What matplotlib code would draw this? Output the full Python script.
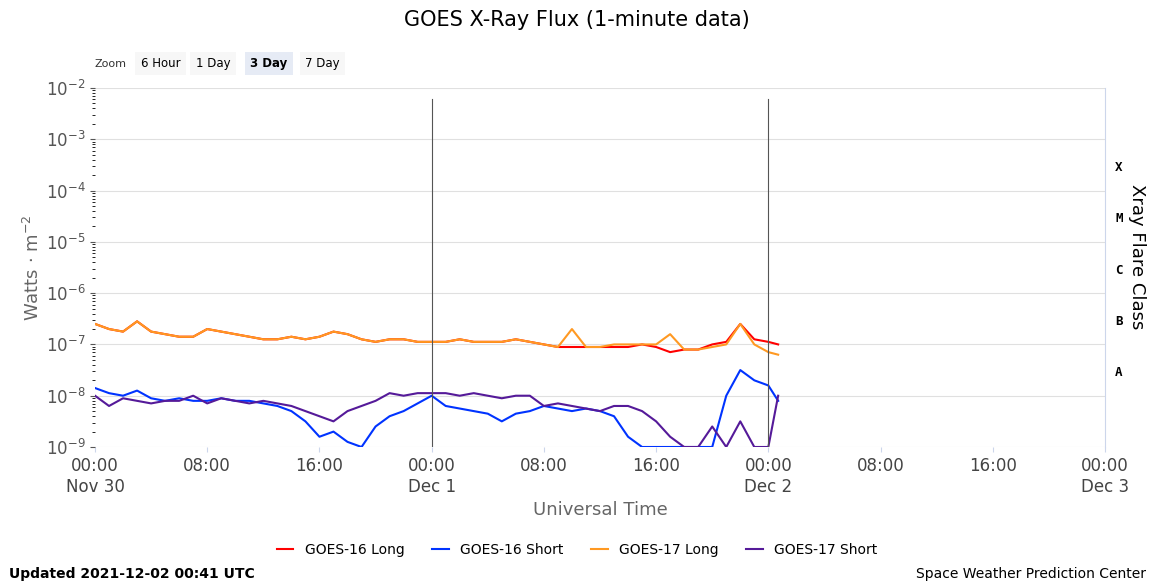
import matplotlib.pyplot as plt
import numpy as np

# hours since 2021-11-30 00:00 UTC
hours = list(range(49)) + [48.7]
hours = sorted(set(hours))

g16_long = [-6.6, -6.7, -6.75, -6.55, -6.75, -6.8, -6.85, -6.85, -6.7, -6.75, -6.8, -6.85, -6.9, -6.9, -6.85,
            -6.9, -6.85, -6.75, -6.8, -6.9, -6.95, -6.9, -6.9, -6.95, -6.95, -6.95, -6.9, -6.95, -6.95, -6.95,
            -6.9, -6.95, -7.0, -7.05, -7.05, -7.05, -7.05, -7.05, -7.05, -7.0, -7.05, -7.15, -7.1, -7.1, -7.0,
            -6.95, -6.6, -6.9, -6.95, -7.0]
g17_long = [-6.6, -6.7, -6.75, -6.55, -6.75, -6.8, -6.85, -6.85, -6.7, -6.75, -6.8, -6.85, -6.9, -6.9, -6.85,
            -6.9, -6.85, -6.75, -6.8, -6.9, -6.95, -6.9, -6.9, -6.95, -6.95, -6.95, -6.9, -6.95, -6.95, -6.95,
            -6.9, -6.95, -7.0, -7.05, -6.7, -7.05, -7.05, -7.0, -7.0, -7.0, -7.0, -6.8, -7.1, -7.1, -7.05,
            -7.0, -6.6, -7.0, -7.15, -7.2]
g16_short = [-7.85, -7.95, -8.0, -7.9, -8.05, -8.1, -8.05, -8.1, -8.1, -8.05, -8.1, -8.1, -8.15, -8.2, -8.3,
             -8.5, -8.8, -8.7, -8.9, -9.0, -8.6, -8.4, -8.3, -8.15, -8.0, -8.2, -8.25, -8.3, -8.35, -8.5,
             -8.35, -8.3, -8.2, -8.25, -8.3, -8.25, -8.3, -8.4, -8.8, -9.0, -9.0, -9.0, -9.0, -9.0, -9.0,
             -8.0, -7.5, -7.7, -7.8, -8.1]
g17_short = [-8.0, -8.2, -8.05, -8.1, -8.15, -8.1, -8.1, -8.0, -8.15, -8.05, -8.1, -8.15, -8.1, -8.15, -8.2,
             -8.3, -8.4, -8.5, -8.3, -8.2, -8.1, -7.95, -8.0, -7.95, -7.95, -7.95, -8.0, -7.95, -8.0, -8.05,
             -8.0, -8.0, -8.2, -8.15, -8.2, -8.25, -8.3, -8.2, -8.2, -8.3, -8.5, -8.8, -9.0, -9.0, -8.6,
             -9.0, -8.5, -9.0, -9.0, -8.0]

x_ticks = [0, 8, 16, 24, 32, 40, 48, 56, 64, 72]
x_labels = ['00:00\nNov 30', '08:00', '16:00', '00:00\nDec 1', '08:00', '16:00',
            '00:00\nDec 2', '08:00', '16:00', '00:00\nDec 3']
flare_classes = ['A', 'B', 'C', 'M', 'X']

fig = plt.figure(figsize=(11.54, 5.84), dpi=100)
ax = fig.add_axes([95 / 1154, 1 - 447 / 584, 1010 / 1154, 359 / 584])

series = [(g16_long, '#ff0000', 'GOES-16 Long'), (g16_short, '#0033ff', 'GOES-16 Short'),
          (g17_long, '#ff9922', 'GOES-17 Long'), (g17_short, '#551a99', 'GOES-17 Short')]
for vals, c, lab in series:
    ax.plot(hours, 10 ** np.array(vals), color=c, lw=1.5, label=lab)

ax.set_yscale('log')
ax.set_ylim(1e-9, 1e-2)
ax.set_xlim(0, 72)
ax.set_xticks(x_ticks)
ax.set_xticklabels(x_labels, fontsize=12, color='#444444')
ax.tick_params(axis='x', color='#ccd6eb')
ax.tick_params(axis='y', labelsize=12, colors='#555555')
ax.grid(axis='y', which='major', color='#e0e0e0')
for s in ['top', 'left', 'bottom']:
    ax.spines[s].set_visible(False)
ax.spines['right'].set_color('#ccd6eb')
ax.axvline(24, color='#555555', lw=0.8, ymax=0.97)
ax.axvline(48, color='#555555', lw=0.8, ymax=0.97)
ax.set_ylabel('Watts · m$^{-2}$', fontsize=13, color='#666666', labelpad=2)
ax.set_xlabel('Universal Time', fontsize=13, color='#666666')

for i, fc in enumerate(flare_classes):
    ax.text(1.01, 10 ** (-7.55 + i), fc, transform=ax.get_yaxis_transform(), fontsize=9,
            fontweight='bold', va='center', family='DejaVu Sans Mono')
fig.text(0.985, 0.56, 'Xray Flare Class', rotation=270, fontsize=13, va='center', ha='center')

fig.text(0.5, 0.955, 'GOES X-Ray Flux (1-minute data)', fontsize=15, ha='center')
fig.legend(loc='lower center', ncol=4, frameon=False, bbox_to_anchor=(0.5, 0.025), fontsize=10,
           handlelength=1.2)
fig.text(0.008, 0.01, 'Updated 2021-12-02 00:41 UTC', fontsize=10, fontweight='bold')
fig.text(0.993, 0.01, 'Space Weather Prediction Center', fontsize=10, ha='right')

fig.text(0.082, 0.885, 'Zoom', fontsize=8, color='#333333')
for i, b in enumerate(['6 Hour', '1 Day', '3 Day', '7 Day']):
    fig.text(0.122 + i * 0.0475, 0.885, b, fontsize=8.5, fontweight='bold' if b == '3 Day' else 'normal',
             bbox=dict(boxstyle='square,pad=0.45', fc='#e6ebf5' if b == '3 Day' else '#f7f7f7', ec='none'))

fig.savefig('out.png', dpi=100)
